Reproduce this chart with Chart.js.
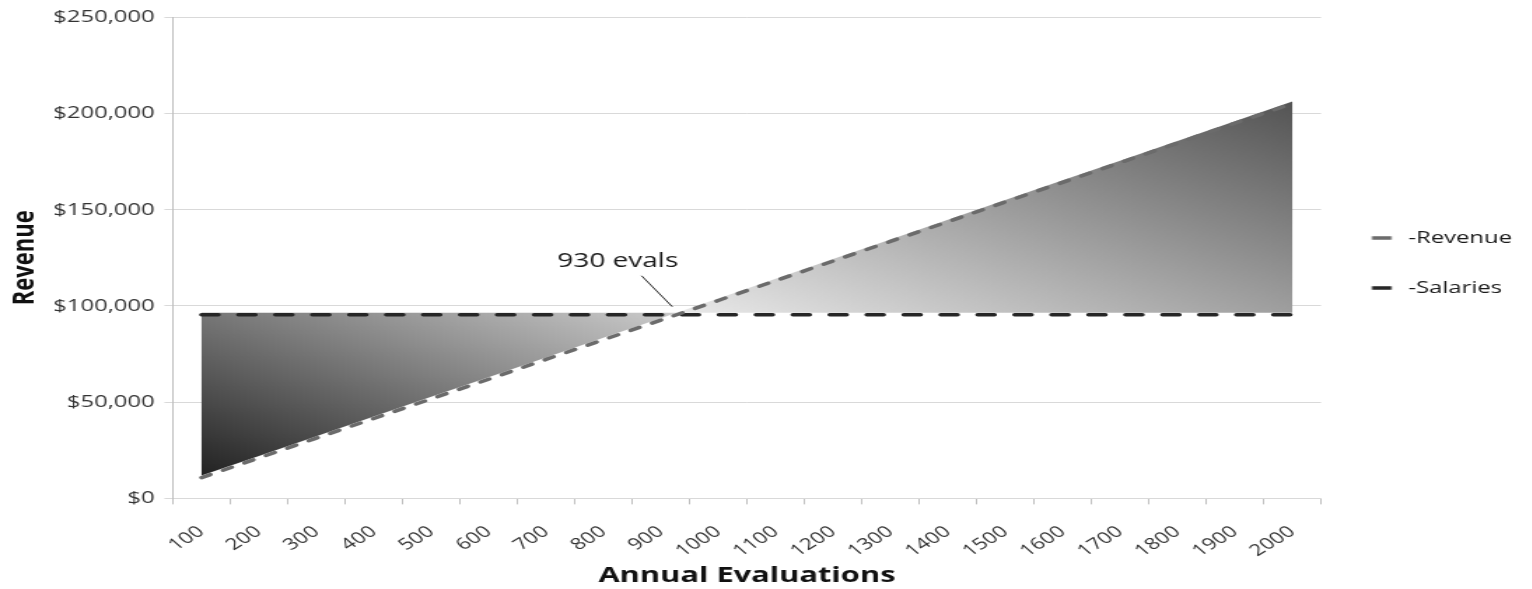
<!DOCTYPE html>
<html><head><meta charset="utf-8">
<script src="https://cdn.jsdelivr.net/npm/chart.js@4.4.1/dist/chart.umd.min.js"></script>
<style>
html,body{margin:0;padding:0;background:#fff;overflow:hidden;}
#wrap{position:absolute;left:0;top:0;width:1094px;height:589px;transform:scaleX(1.4);transform-origin:0 0;}
</style></head><body>
<div id="wrap"><canvas id="c"></canvas></div>
<script>
const evaluations = ['100','200','300','400','500','600','700','800','900','1000','1100','1200','1300','1400','1500','1600','1700','1800','1900','2000'];
const revenue = [10800,21000,31300,41500,51700,61900,72200,82400,92600,102800,113100,123300,133500,143700,154000,164200,174400,184600,194900,205100];
const salaries = [95400,95400,95400,95400,95400,95400,95400,95400,95400,95400,95400,95400,95400,95400,95400,95400,95400,95400,95400,95400];
const seriesNames = ['-Revenue','-Salaries'];
const yTickValues = [0,50000,100000,150000,200000,250000];
const breakEvenLabel = '930 evals';
const xTitle = 'Annual Evaluations';
const yTitle = 'Revenue';

function crossing(chart){
  const xs = chart.scales.x, ys = chart.scales.y;
  const pts = revenue.map((v,i)=>({x:xs.getPixelForValue(i), r:ys.getPixelForValue(v), s:ys.getPixelForValue(salaries[i])}));
  let k = 0;
  for (let i=0;i<pts.length-1;i++){ if ((revenue[i]-salaries[i])*(revenue[i+1]-salaries[i+1])<=0){k=i;break;} }
  const a=pts[k], b=pts[k+1];
  const da=a.r-a.s, db=b.r-b.s;
  const t=da/(da-db);
  return {k, pts, cx:a.x+t*(b.x-a.x), cy:a.s+t*(b.s-a.s)};
}
function diagGrad(ctx,x0,y0,x1,y1,cBL,cTR){
  const w=x1-x0,h=y1-y0,k=2*w*h/(w*w+h*h);
  const g=ctx.createLinearGradient(x0,y1,x0+h*k,y1-w*k);
  g.addColorStop(0,cBL); g.addColorStop(1,cTR);
  return g;
}
function legendSample(color){
  const c=document.createElement('canvas');
  c.width=21; c.height=4;
  const g=c.getContext('2d');
  g.fillStyle=color; g.fillRect(3.4,0.25,14,3.5);
  return c;
}
const sampleImgs=[legendSample('#6b6b6b'),legendSample('#262626')];

const gapFill = {
  id:'gapFill',
  beforeDatasetsDraw(chart){
    const ctx=chart.ctx; const {k,pts,cx,cy}=crossing(chart);
    const N=pts.length; const dy=-2;
    ctx.save();
    ctx.translate(0,dy);
    ctx.beginPath();
    ctx.moveTo(pts[0].x,pts[0].s);
    for(let i=1;i<=k;i++) ctx.lineTo(pts[i].x,pts[i].s);
    ctx.lineTo(cx,cy);
    for(let i=k;i>=0;i--) ctx.lineTo(pts[i].x,pts[i].r);
    ctx.closePath();
    ctx.fillStyle=diagGrad(ctx,pts[0].x,pts[0].s,cx,pts[0].r,'#222222','#cbcbcb');
    ctx.fill();
    ctx.beginPath();
    ctx.moveTo(cx,cy);
    for(let i=k+1;i<N;i++) ctx.lineTo(pts[i].x,pts[i].r);
    for(let i=N-1;i>k;i--) ctx.lineTo(pts[i].x,pts[i].s);
    ctx.closePath();
    ctx.fillStyle=diagGrad(ctx,cx,pts[N-1].r,pts[N-1].x,pts[N-1].s,'#e9e9e9','#545454');
    ctx.fill();
    ctx.restore();
  },
  afterDatasetsDraw(chart){
    const ctx=chart.ctx; const {cx,cy}=crossing(chart);
    ctx.save();
    ctx.strokeStyle='#222'; ctx.lineWidth=1;
    ctx.beginPath(); ctx.moveTo(cx-25,cy-39); ctx.lineTo(cx-3,cy-8); ctx.stroke();
    ctx.font='20px "Open Sans"'; ctx.fillStyle='#1a1a1a';
    ctx.textAlign='center'; ctx.textBaseline='alphabetic';
    ctx.fillText(breakEvenLabel,cx-42,cy-48);
    ctx.restore();
  }
};

new Chart(document.getElementById('c'),{
  type:'line',
  data:{labels:evaluations,datasets:[
    {label:seriesNames[0],data:revenue,borderColor:'#6b6b6b',backgroundColor:'#6b6b6b',borderWidth:3.5,borderDash:[7,10],borderCapStyle:'round',pointRadius:0,tension:0,fill:false},
    {label:seriesNames[1],data:salaries,borderColor:'#262626',backgroundColor:'#262626',borderWidth:3.5,borderDash:[12,14.4],borderCapStyle:'round',pointRadius:0,tension:0,fill:false}
  ]},
  plugins:[gapFill],
  options:{
    responsive:true,maintainAspectRatio:false,animation:false,
    layout:{padding:{left:4.6,top:-1,right:4,bottom:0}},
    plugins:{
      tooltip:{enabled:false},
      legend:{position:'right',align:'start',
        title:{display:true,text:' ',padding:{top:183,bottom:0}},
        labels:{
        font:{family:'Open Sans',size:17},color:'#1a1a1a',usePointStyle:true,pointStyleWidth:21,padding:33,
        generateLabels(chart){
          const items=Chart.defaults.plugins.legend.labels.generateLabels(chart);
          items.forEach((it,i)=>{it.pointStyle=sampleImgs[i];it.lineDash=[];});
          return items;
        }
      }}
    },
    scales:{
      x:{offset:true,
        grid:{display:true,offset:true,drawOnChartArea:false,drawTicks:true,tickLength:6,color:'#bfbfbf'},
        border:{color:'#d9d9d9'},
        ticks:{font:{family:'Open Sans',size:16},color:'#333',minRotation:40,maxRotation:40,autoSkip:false,padding:18},
        title:{display:true,text:xTitle,font:{family:'Open Sans',size:22,weight:'bold'},color:'#111',padding:{top:-16,bottom:0}}
      },
      y:{min:0,max:250000,
        afterBuildTicks(scale){scale.ticks=yTickValues.map(v=>({value:v}));},
        grid:{color:'#d9d9d9',tickLength:6,drawTicks:true},
        border:{color:'#bfbfbf'},
        ticks:{font:{family:'Open Sans',size:17},color:'#333',padding:7,callback:v=>'$'+Number(v).toLocaleString('en-US')},
        title:{display:true,text:yTitle,font:{family:'Open Sans',size:22,weight:'bold'},color:'#111',padding:{top:0,bottom:0}}
      }
    }
  }
});
</script>
</body></html>
